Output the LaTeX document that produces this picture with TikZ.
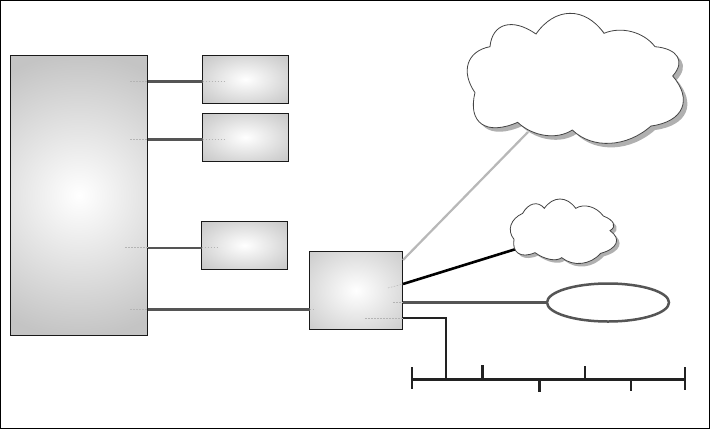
\documentclass[tikz,border=0pt]{standalone}
\usetikzlibrary{calc,shapes.geometric}
\pgfdeclareradialshading{mainrad}{\pgfpoint{0bp}{0bp}}{rgb(0bp)=(1,1,1); rgb(22bp)=(.77,.77,.77); rgb(50bp)=(.77,.77,.77)}
\pgfdeclareradialshading{smallrad}{\pgfpoint{0bp}{0bp}}{rgb(0bp)=(1,1,1); rgb(25bp)=(.84,.84,.84); rgb(35.4bp)=(.78,.78,.78); rgb(50bp)=(.78,.78,.78)}
\pgfdeclareradialshading{hubrad}{\pgfpoint{0bp}{0bp}}{rgb(0bp)=(1,1,1); rgb(25bp)=(.86,.86,.86); rgb(35.4bp)=(.80,.80,.80); rgb(50bp)=(.80,.80,.80)}
\definecolor{linkgray}{HTML}{555555}
\definecolor{lightlink}{HTML}{B8B8B8}
\definecolor{darklink}{HTML}{222222}
\definecolor{cloudshadow}{HTML}{B0B0B0}
\definecolor{cloudedge}{HTML}{444444}
\definecolor{stubgray}{HTML}{B4B4B4}
\def\lobe(#1,#2)(#3,#4)(#5,#6){ .. controls ({(8*#3-#1-#5)/6+0.22*(#1-#5)},{(8*#4-#2-#6)/6+0.22*(#2-#6)}) and ({(8*#3-#1-#5)/6-0.22*(#1-#5)},{(8*#4-#2-#6)/6-0.22*(#2-#6)}) .. (#5,#6)}
\def\bigcloudpath{(120,140) \lobe(120,140)(165,76)(258,102) \lobe(258,102)(360,40)(462,100) \lobe(462,100)(545,95)(615,140) \lobe(615,140)(682,170)(668,228) \lobe(668,228)(695,325)(603,378) \lobe(603,378)(480,430)(367,390) \lobe(367,390)(285,406)(203,367) \lobe(203,367)(95,372)(75,278) \lobe(75,278)(55,190)(120,140) -- cycle}
\def\smallcloudpath{(398,70) \lobe(398,70)(430,42)(463,55) \lobe(463,55)(510,27)(557,55) \lobe(557,55)(600,50)(640,78) \lobe(640,78)(670,100)(660,122) \lobe(660,122)(678,160)(632,190) \lobe(632,190)(575,220)(515,203) \lobe(515,203)(480,208)(435,188) \lobe(435,188)(385,190)(372,148) \lobe(372,148)(363,105)(398,70) -- cycle}
\tikzset{
  x=1pt,y=-1pt,
  box/.style={draw=black!90,line width=1pt,inner sep=0pt,outer sep=0pt},
  smallbox/.style={box,shading=smallrad,minimum width=86pt,minimum height=47.5pt},
  thicklink/.style={draw=linkgray,line width=3pt},
  thinlink/.style={draw=linkgray,line width=2pt},
  buslink/.style={draw=darklink,line width=2pt},
  stub/.style={draw=stubgray,line width=.5pt,dash pattern=on 1.5pt off 1.5pt},
  cloudline/.style={draw=cloudedge,line width=.8pt,fill=white},
  cloudshade/.style={fill=cloudshadow},
}
\begin{document}
\begin{tikzpicture}
\useasboundingbox (0,0) rectangle (710,429);
\fill[white] (0,0) rectangle (710,429);
\draw[black,line width=1.2pt] (0.5,0.5) rectangle (709.5,428.5);

% endpoints on clouds and bus
\coordinate (cloudA) at (528,132);
\coordinate (cloudB) at (516,249);
\coordinate (pA) at (403,260);
\coordinate (pB) at (403,284);
\coordinate (pC) at (403,302.5);
\coordinate (pD) at (403,318);
\coordinate (busL) at (413,379);
\coordinate (busR) at (685,379);
\coordinate (drop) at (446,379);

\node[box,minimum width=137pt,minimum height=280.5pt,
  path picture={\shade[shading=mainrad] (path picture bounding box.center) circle (160pt);}]
  (main) at (79,195.25) {};
\node[smallbox] (b1) at (245.5,79.25) {};
\node[smallbox] (b2) at (245.5,137.25) {};
\node[smallbox] (b3) at (244.5,245.25) {};
\node[box,shading=hubrad,minimum width=93pt,minimum height=78pt] (hub) at (356,290.5) {};
\node[draw=linkgray,line width=2.5pt,ellipse,minimum width=122pt,minimum height=38pt,inner sep=0pt,outer sep=0pt] (ring) at (608,302.5) {};

% links
\coordinate (y1) at (203,81.5);
\coordinate (y2) at (203,139.5);
\coordinate (y3) at (202,247.5);
\coordinate (y4) at (309.5,309.5);
\draw[thicklink] (main.east |- y1) -- (y1);
\draw[thicklink] (main.east |- y2) -- (y2);
\draw[thinlink]  (main.east |- y3) -- (y3);
\draw[thicklink] (main.east |- y4) -- (y4);
\draw[draw=lightlink,line width=2.2pt] (pA) -- (cloudA);
\draw[black,line width=2.6pt] (pB) -- (cloudB);
\draw[thicklink] (pC) -- (ring.west);
\draw[buslink,line join=miter] (pD) -| (drop);

% bus and its ticks
\draw[draw=darklink,line width=3pt] (busL) -- (busR);
\draw[draw=darklink,line width=1.5pt] (412,367) coordinate (t1a) -- (412,389) coordinate (t1b);
\draw[draw=darklink,line width=2.5pt] (482.5,365) coordinate (t2a) -- (482.5,379) coordinate (t2b);
\draw[draw=darklink,line width=2.5pt] (539.5,379) coordinate (t3a) -- (539.5,392) coordinate (t3b);
\draw[draw=darklink,line width=2pt] (585,366) coordinate (t4a) -- (585,379) coordinate (t4b);
\draw[draw=darklink,line width=1.5pt] (631,379) coordinate (t5a) -- (631,391) coordinate (t5b);
\draw[draw=darklink,line width=2pt] (685,367) coordinate (t6a) -- (685,390) coordinate (t6b);

% faint stubs
\draw[stub] (130,81.5) -- (y1 -| main.east);
\draw[stub] (b1.west |- y1) -- (226,81.5);
\draw[stub] (130,139.5) -- (y2 -| main.east);
\draw[stub] (b2.west |- y2) -- (224,139.5);
\draw[stub] (125,247.5) -- (y3 -| main.east);
\draw[stub] (b3.west |- y3) -- (219,247.5);
\draw[stub] (130,309.5) -- (y4 -| main.east);
\draw[stub] (y4) -- (315,309.5);
\draw[stub] (388,288) -- (pB);
\draw[stub] (393,302.5) -- (pC);
\draw[stub] (365,318) -- (pD);

% big cloud
\begin{scope}[xshift=454pt,yshift=-4pt,x=0.33333pt,y=-0.33333pt]
\fill[cloudshade] \bigcloudpath;
\end{scope}
\begin{scope}[xshift=450pt,x=0.33333pt,y=-0.33333pt]
\filldraw[cloudline] \bigcloudpath;
\end{scope}
% small cloud
\begin{scope}[xshift=393pt,yshift=-193pt,x=0.33333pt,y=-0.33333pt]
\fill[cloudshade] \smallcloudpath;
\end{scope}
\begin{scope}[xshift=390pt,yshift=-190pt,x=0.33333pt,y=-0.33333pt]
\filldraw[cloudline] \smallcloudpath;
\end{scope}
\end{tikzpicture}
\end{document}
